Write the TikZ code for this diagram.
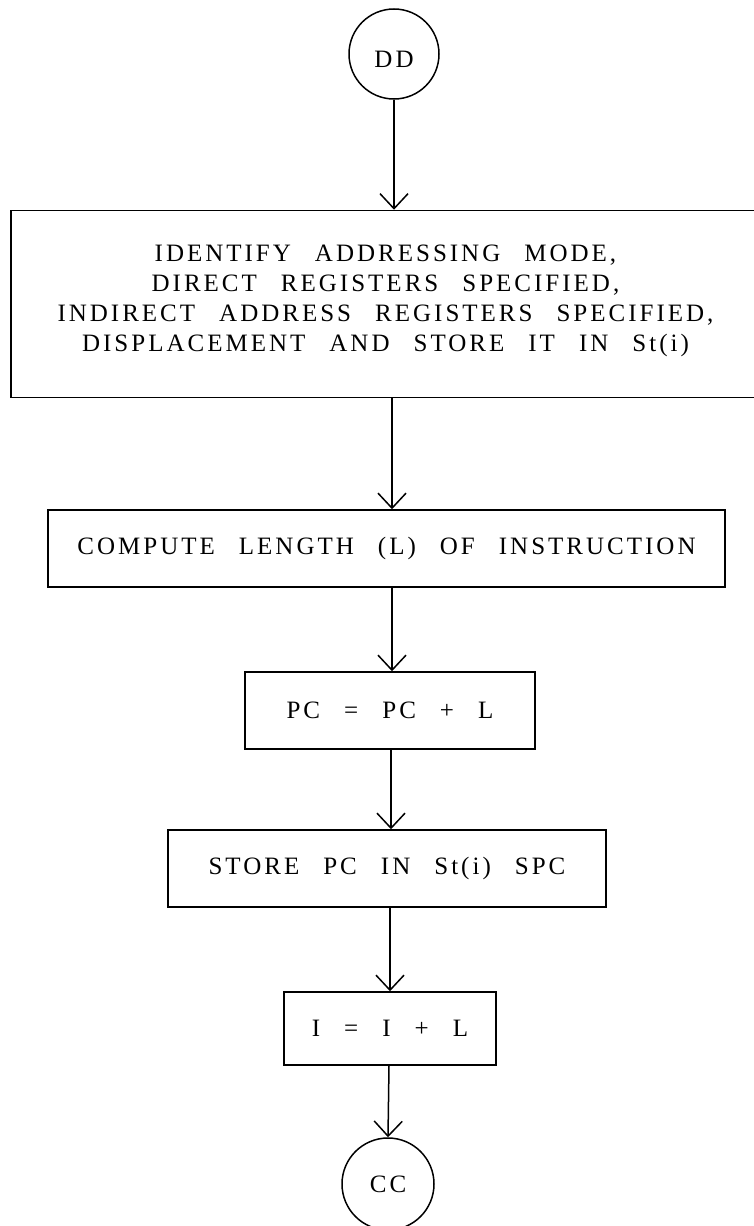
\documentclass[tikz,border=0pt]{standalone}
\usepackage{fontspec}
\setmainfont{Liberation Serif}[LetterSpace=12,WordSpace=2.6]
\usetikzlibrary{arrows.meta}
\begin{document}
\begin{tikzpicture}[x=1pt,y=-1pt,line width=1.5pt,
  txt/.style={font=\fontsize{25}{30}\selectfont},
  box/.style={draw,rectangle,inner sep=0pt,align=center,txt},
  term/.style={draw,circle,inner sep=0pt,minimum size=90pt,txt},
  arr/.style={-{Straight Barb[length=15pt,width=28pt,line width=1.5pt]}}]
\useasboundingbox[fill=white] (0,0) rectangle (753,1226);
\node[term] (dd) at (394,54) {\raisebox{-5pt}[\height][\depth]{DD}};
\node[box,minimum width=749pt,minimum height=187pt] (big) at (385.5,304)
  {\raisebox{4pt}[\height][\depth]{\begin{tabular}{@{}c@{}}IDENTIFY ADDRESSING MODE,\\DIRECT REGISTERS SPECIFIED,\\INDIRECT ADDRESS REGISTERS SPECIFIED,\\DISPLACEMENT AND STORE IT IN St(i)\end{tabular}}};
\node[box,minimum width=677pt,minimum height=77pt] (comp) at (386.5,548.5) {COMPUTE LENGTH (L) OF INSTRUCTION};
\node[box,minimum width=290pt,minimum height=77pt] (pc) at (390,710.5) {PC = PC + L};
\node[box,minimum width=438pt,minimum height=77pt] (store) at (387,868.5) {STORE PC IN St(i) SPC};
\node[box,minimum width=212pt,minimum height=73pt] (ibox) at (390,1028.5) {I = I + L};
\node[term,minimum size=92pt] (cc) at (388,1184) {CC};
\draw[arr] (dd.south) -- (dd.south |- big.north);
\draw[arr] (big.south -| 392,0) -- (comp.north -| 392,0);
\draw[arr] (comp.south -| 392,0) -- (pc.north -| 392,0);
\draw[arr] (pc.south -| 391,0) -- (store.north -| 391,0);
\draw[arr] (store.south -| 390,0) -- (ibox.north -| 390,0);
\draw[arr] (ibox.south -| 389,0) -- (cc.north);
\end{tikzpicture}
\end{document}
